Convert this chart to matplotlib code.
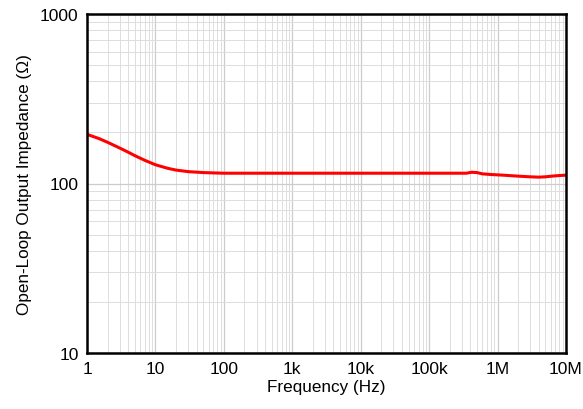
import numpy as np
import matplotlib.pyplot as plt
from matplotlib.ticker import NullFormatter

plt.rcParams['font.family'] = ['Liberation Sans', 'DejaVu Sans']

# open-loop output impedance
freq = [1, 1.5, 2, 3, 4, 5, 7, 10, 15, 20, 30, 50, 70, 100, 1e3, 1e4, 1e5, 3.5e5, 4.2e5,
        5e5, 6e5, 8e5, 1.2e6, 2e6, 3e6, 4e6, 5e6, 7e6, 1e7]
zout = [195, 184, 175, 162, 153, 146, 137, 129, 123, 120, 117.5, 116, 115.5, 115, 115, 115,
        115, 115, 116.5, 116, 114, 113, 112, 110.5, 109.5, 109, 109.5, 111, 112]

xticks = [1, 10, 100, 1e3, 1e4, 1e5, 1e6, 1e7]
xlabels = ['1', '10', '100', '1k', '10k', '100k', '1M', '10M']
yticks = [10, 100, 1000]
ylabels = ['10', '100', '1000']

fig = plt.figure(figsize=(5.83, 4.10), dpi=100)
ax = fig.add_axes([87/583, 1 - 354/410, (566-87)/583, (354-15)/410])

ax.plot(freq, zout, color='#ff0000', lw=2.2)

ax.set_xscale('log')
ax.set_yscale('log')
ax.set_xlim(1, 1e7)
ax.set_ylim(10, 1000)
ax.set_xticks(xticks)
ax.set_xticklabels(xlabels)
ax.set_yticks(yticks)
ax.set_yticklabels(ylabels)
ax.xaxis.set_minor_formatter(NullFormatter())
ax.yaxis.set_minor_formatter(NullFormatter())

ax.grid(True, which='major', color='#cccccc', lw=0.9)
ax.grid(True, which='minor', color='#dddddd', lw=0.7)
ax.tick_params(which='both', length=0, labelsize=12.5, pad=6)
for s in ax.spines.values():
    s.set_linewidth(1.8)

ax.set_xlabel('Frequency (Hz)', fontsize=12.3, labelpad=2)
ax.set_ylabel('Open-Loop Output Impedance (Ω)', fontsize=12.3, labelpad=6)

fig.savefig('out.png', dpi=100)
